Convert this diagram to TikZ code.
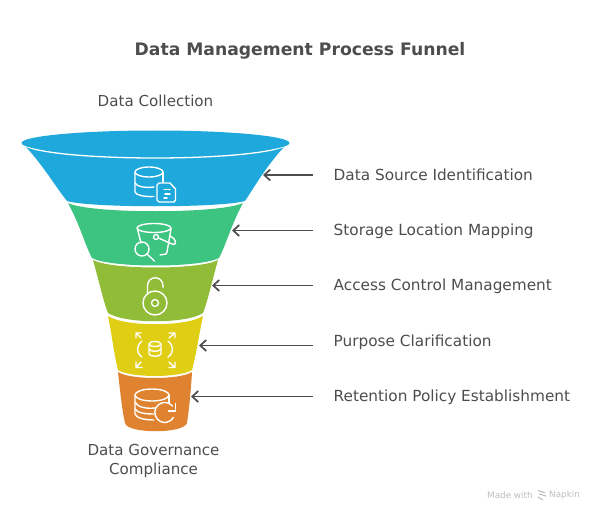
\documentclass[tikz,border=0pt]{standalone}
\usepackage{fontspec}
\setmainfont{DejaVu Sans}
\usetikzlibrary{arrows.meta, positioning}
\definecolor{inkgray}{HTML}{4D4D4D}
\definecolor{markgray}{HTML}{BDBDBD}
\definecolor{fblue}{HTML}{1EA8DB}
\definecolor{fgreen}{HTML}{3DC481}
\definecolor{folive}{HTML}{90BC37}
\definecolor{fyellow}{HTML}{E0CE14}
\definecolor{forange}{HTML}{E08330}
\tikzset{
  steplabel/.style={text=inkgray, font=\fontsize{15.3}{18}\selectfont, anchor=base west, inner sep=0pt},
  endlabel/.style={text=inkgray, font=\fontsize{15.1}{19}\selectfont, align=center, inner sep=0pt},
  pointer/.style={draw=inkgray, line width=1.7pt, shorten <=21pt, -{Straight Barb[length=6pt,width=11pt,line width=1.7pt]}},
  icon/.style={draw=white, line width=1.4pt, line cap=round, line join=round},
  seam/.style={draw=white, line width=1.3pt},
}

\begin{document}
\begin{tikzpicture}[x=1pt,y=-1pt]
  \useasboundingbox (0,0) rectangle (602,516);

  % funnel bands
  \fill[fblue] (25,146) .. controls (43,165) and (55,186) .. (67,201)
    .. controls (90,208) and (220,208) .. (245,201)
    .. controls (255,186) and (267,165) .. (285,146) -- cycle;
  \fill[fgreen] (68,203) .. controls (80,225) and (85,245) .. (92,258)
    .. controls (110,268) and (200,268) .. (219,258)
    .. controls (226,245) and (231,225) .. (243,203)
    .. controls (220,214) and (90,214) .. (68,203) -- cycle;
  \fill[folive] (93,260) .. controls (100,285) and (103,300) .. (108,313)
    .. controls (125,324) and (186,324) .. (203,313)
    .. controls (208,300) and (211,285) .. (218,260)
    .. controls (200,270) and (111,270) .. (93,260) -- cycle;
  \fill[fyellow] (108,316) .. controls (112,335) and (114,355) .. (118,370)
    .. controls (130,378) and (180,378) .. (192,370)
    .. controls (196,355) and (199,335) .. (203,316)
    .. controls (186,327) and (125,327) .. (108,316) -- cycle;
  \fill[forange] (118,372) .. controls (120,390) and (122,410) .. (125,423)
    .. controls (127,434) and (184,434) .. (187,423)
    .. controls (189,410) and (191,390) .. (192,372)
    .. controls (180,380) and (130,380) .. (118,372) -- cycle;

  % funnel mouth
  \draw[seam] (25,146) .. controls (60,162) and (250,162) .. (285,146);
  \fill[fblue] (155.5,143) ellipse [x radius=134, y radius=12.5];

  % data source icon
  \draw[icon] (149,172) ellipse [x radius=14, y radius=5];
  \draw[icon] (135,172) -- (135,192) .. controls (136,195) and (144,197) .. (154,196.5);
  \draw[icon] (135,183) .. controls (137,187) and (146,188) .. (154,187);
  \draw[icon] (163,172) -- (163,182);
  \draw[icon] (157,185) -- (157,200) -- (159,202) -- (174,202) -- (175.5,200) -- (175.5,189) -- (170,183) -- (159,183) -- cycle;
  \draw[icon] (164,189.5) -- (170,189.5) (165,194) -- (170,194) (164,198) -- (167,198);

  % bucket icon
  \draw[icon] (154,228) ellipse [x radius=17, y radius=4.5];
  \draw[icon] (137.5,229) -- (141,243);
  \draw[icon] (171,229) -- (167,252) -- (166,254) -- (160,255);
  \draw[icon] (142,249) circle [radius=7];
  \draw[icon] (147,254) -- (154.5,261);
  \draw[icon] (156,237) circle [radius=2.5];
  \draw[icon] (158.5,238) -- (172,244) .. controls (178,246) and (176,238) .. (170,236);

  % lock icon
  \draw[icon] (155,303) circle [radius=12];
  \draw[icon] (155,303) circle [radius=3.5];
  \draw[icon] (147.5,294) -- (147.5,286) .. controls (147.5,275) and (163,275) .. (163,286) -- (163,287.5);

  % database scale icon
  \draw[icon] (155,344) ellipse [x radius=6, y radius=2.5];
  \draw[icon] (149,344) -- (149,354) .. controls (150,357) and (160,357) .. (161,354) -- (161,344);
  \draw[icon] (149,349) .. controls (150,352) and (160,352) .. (161,349);
  \draw[icon] (142,341) .. controls (136,346) and (136,353) .. (142,357);
  \draw[icon] (168,341) .. controls (174,346) and (174,353) .. (168,357);
  \draw[icon] (141,338) -- (136,333) (136,338) -- (136,333) -- (141,333);
  \draw[icon] (169,338) -- (175,333) (169,333) -- (175,333) -- (175,338);
  \draw[icon] (141,362) -- (136,367.5) (136,362) -- (136,367.5) -- (142,367.5);
  \draw[icon] (169,362) -- (175,367.5) (175,362) -- (175,367.5) -- (169,367.5);

  % retention icon
  \draw[icon] (152,395) ellipse [x radius=17, y radius=6];
  \draw[icon] (135,395) -- (135,414) .. controls (136,418) and (145,420) .. (154,420);
  \draw[icon] (135,402) .. controls (137,407) and (146,409) .. (155,408);
  \draw[icon] (135,409) .. controls (137,413) and (146,414) .. (154,414);
  \draw[icon] (169,395) -- (169,403);
  \draw[icon] (172.5,406) arc [start angle=-40, end angle=-330, radius=10];
  \draw[icon] (175.5,403.5) -- (175.5,411) -- (168.5,411);

  % texts
  \node[text=inkgray, font=\fontsize{17.2}{22}\bfseries\selectfont, inner sep=0pt] (title) at (300,51) {Data Management Process Funnel};
  \node[endlabel] (top) at (155.5,101) {Data Collection};
  \node[endlabel] (bottom) at (153.5,460.5) {Data Governance\\Compliance};

  \node[steplabel] (source) at (333.5,180) {Data Source Identification};
  \node[steplabel] (storage) at (333.5,235.5) {Storage Location Mapping};
  \node[steplabel] (access) at (333.5,290.5) {Access Control Management};
  \node[steplabel] (purpose) at (333.5,346) {Purpose Clarification};
  \node[steplabel] (retention) at (333.5,401.5) {Retention Policy Establishment};

  \coordinate (tipa) at (263,175);
  \coordinate (tipb) at (232,230.5);
  \coordinate (tipc) at (212,285.5);
  \coordinate (tipd) at (199,345.5);
  \coordinate (tipe) at (191,396.5);

  \draw[pointer] (source.west |- tipa) -- (tipa);
  \draw[pointer] (storage.west |- tipb) -- (tipb);
  \draw[pointer] (access.west |- tipc) -- (tipc);
  \draw[pointer] (purpose.west |- tipd) -- (tipd);
  \draw[pointer] (retention.west |- tipe) -- (tipe);

  % maker mark
  \node[text=markgray, font=\fontsize{8.8}{11}\selectfont, anchor=west, inner sep=0pt] (made) at (487,495) {Made with};
  \node[text=markgray, font=\fontsize{8.8}{11}\selectfont, anchor=west, inner sep=0pt] (napkin) at (549,495) {Napkin};
  \draw[markgray, line width=1.1pt] (538,490.5) -- (545,493) (539,494) -- (546,496) (538,497) -- (543,500);
\end{tikzpicture}
\end{document}
